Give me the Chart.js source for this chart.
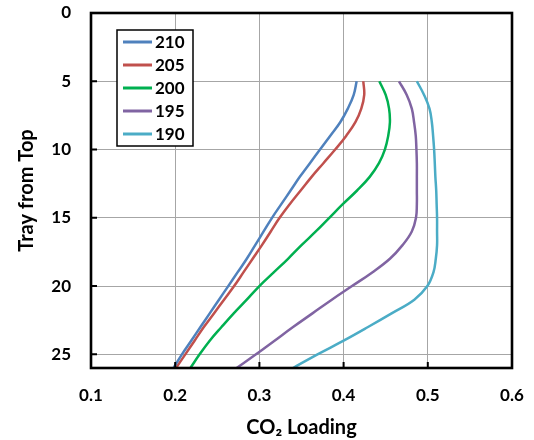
<!DOCTYPE html>
<html>
<head>
<meta charset="utf-8">
<script src="https://cdn.jsdelivr.net/npm/chart.js@4/dist/chart.umd.min.js"></script>
<style>
  body { margin: 0; background: #fff; }
</style>
</head>
<body>
<canvas id="trayChart" width="534" height="440"></canvas>
<script>
// tray number (0 = top), one value per tray from 5 down to 26
const trays = [5, 6, 7, 8, 9, 10, 11, 12, 13, 14, 15, 16, 17, 18, 19, 20, 21, 22, 23, 24, 25, 26];

const seriesNames = ["210", "205", "200", "195", "190"];
const seriesColors = ["#4F81BD", "#C0504D", "#00B050", "#8064A2", "#4BACC6"];

const loading210 = [0.4155, 0.412, 0.405, 0.396, 0.384, 0.372, 0.360, 0.348, 0.337, 0.326, 0.315,
    0.305, 0.295, 0.285, 0.274, 0.263, 0.252, 0.241, 0.230, 0.219, 0.208, 0.198];
const loading205 = [0.4234, 0.4245, 0.421, 0.414, 0.403, 0.390, 0.376, 0.362, 0.349, 0.336, 0.324,
    0.3135, 0.303, 0.292, 0.281, 0.270, 0.258, 0.246, 0.234, 0.223, 0.212, 0.201];
const loading200 = [0.4424, 0.450, 0.454, 0.455, 0.453, 0.449, 0.442, 0.431, 0.416, 0.399, 0.383,
    0.367, 0.350, 0.334, 0.317, 0.300, 0.285, 0.2695, 0.255, 0.241, 0.229, 0.218];
const loading195 = [0.4658, 0.475, 0.481, 0.4837, 0.4857, 0.4865, 0.487, 0.487, 0.487, 0.487, 0.486,
    0.481, 0.470, 0.455, 0.434, 0.410, 0.386, 0.363, 0.340, 0.318, 0.296, 0.273];
const loading190 = [0.487, 0.4956, 0.502, 0.5048, 0.5063, 0.5075, 0.5083, 0.509, 0.510, 0.5105, 0.511,
    0.511, 0.511, 0.5095, 0.5067, 0.4995, 0.484, 0.457, 0.429, 0.400, 0.369, 0.340];

const allLoadings = [loading210, loading205, loading200, loading195, loading190];

const xTicks = [0.1, 0.2, 0.3, 0.4, 0.5, 0.6];
const yTicks = [0, 5, 10, 15, 20, 25];

const FONT = "Lato, 'Open Sans', sans-serif";

function toPoints(values) {
    var pts = [];
    for (var i = 0; i < values.length; i++) {
        pts.push({ x: values[i], y: trays[i] });
    }
    return pts;
}

const datasets = allLoadings.map(function (vals, i) {
    return {
        label: seriesNames[i],
        data: toPoints(vals),
        borderColor: seriesColors[i],
        backgroundColor: seriesColors[i],
        borderWidth: 2.5,
        pointRadius: 0,
        showLine: true,
        tension: 0.4
    };
});

// frame, inside tick marks and the boxed legend
const framePlugin = {
    id: 'frame',
    afterDraw(chart) {
        const ctx = chart.ctx;
        const area = chart.chartArea;
        const xs = chart.scales.x;
        const ys = chart.scales.y;
        ctx.save();
        ctx.strokeStyle = '#000';
        ctx.lineWidth = 2;
        ctx.beginPath();
        xTicks.forEach(function (v) {
            const px = xs.getPixelForValue(v);
            ctx.moveTo(px, area.bottom);
            ctx.lineTo(px, area.bottom - 6);
        });
        yTicks.forEach(function (v) {
            const py = ys.getPixelForValue(v);
            ctx.moveTo(area.left, py);
            ctx.lineTo(area.left + 6, py);
        });
        ctx.stroke();
        ctx.lineWidth = 2.6;
        ctx.strokeRect(area.left, area.top, area.right - area.left, area.bottom - area.top);

        // legend box
        const lx = 117, ly = 30, lw = 76, lh = 116;
        ctx.fillStyle = '#fff';
        ctx.fillRect(lx, ly, lw, lh);
        ctx.lineWidth = 1.5;
        ctx.strokeRect(lx, ly, lw, lh);
        ctx.font = "bold 17px " + FONT;
        ctx.textBaseline = 'middle';
        ctx.textAlign = 'left';
        chart.data.datasets.forEach(function (ds, i) {
            const cy = ly + 12 + i * 23;
            ctx.strokeStyle = ds.borderColor;
            ctx.lineWidth = 3;
            ctx.beginPath();
            ctx.moveTo(lx + 6, cy);
            ctx.lineTo(lx + 35, cy);
            ctx.stroke();
            ctx.fillStyle = '#000';
            ctx.fillText(ds.label, lx + 38, cy + 1);
        });
        ctx.restore();
    }
};

new Chart(document.getElementById('trayChart'), {
    type: 'scatter',
    data: { datasets: datasets },
    options: {
        responsive: false,
        animation: false,
        layout: { padding: { left: 0, right: 22, top: 13, bottom: 0 } },
        plugins: {
            legend: { display: false },
            tooltip: { enabled: false }
        },
        scales: {
            x: {
                type: 'linear',
                min: 0.1,
                max: 0.6,
                afterFit: function (scale) {
                    scale.height = 72;
                    scale.paddingLeft = 0;
                    scale.paddingRight = 0;
                },
                afterBuildTicks: function (scale) {
                    scale.ticks = xTicks.map(function (v) { return { value: v }; });
                },
                grid: { color: '#a6a6a6', lineWidth: 1, drawTicks: false },
                border: { display: false },
                ticks: {
                    padding: 17,
                    color: '#000',
                    font: { family: FONT, size: 17, weight: 'bold' },
                    callback: function (v) { return v.toFixed(1); }
                },
                title: {
                    display: true,
                    text: 'CO₂ Loading',
                    color: '#000',
                    font: { family: FONT, size: 20, weight: 'bold' },
                    padding: { top: 0, bottom: 0 }
                }
            },
            y: {
                type: 'linear',
                reverse: true,
                min: 0,
                max: 26,
                afterFit: function (scale) {
                    scale.width = 91;
                    scale.paddingTop = 0;
                    scale.paddingBottom = 0;
                },
                afterBuildTicks: function (scale) {
                    scale.ticks = yTicks.map(function (v) { return { value: v }; });
                },
                grid: { color: '#a6a6a6', lineWidth: 1, drawTicks: false },
                border: { display: false },
                ticks: {
                    padding: 20,
                    color: '#000',
                    font: { family: FONT, size: 17, weight: 'bold' }
                },
                title: {
                    display: true,
                    text: 'Tray from Top',
                    color: '#000',
                    font: { family: FONT, size: 20, weight: 'bold' },
                    padding: { top: 15, bottom: 0 }
                }
            }
        }
    },
    plugins: [framePlugin]
});
</script>
</body>
</html>
